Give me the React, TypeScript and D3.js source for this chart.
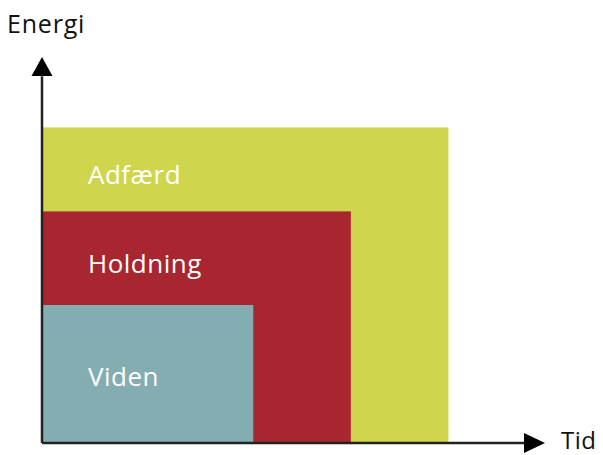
import React from 'react';
import { scaleLinear } from 'd3';

// nested stages, drawn largest first
const stages = ['Adfærd', 'Holdning', 'Viden'];
const tid = [4.04, 3.07, 2.1];
const energi = [3.27, 2.4, 1.43];
const colors = ['#cfd64e', '#a82630', '#84adb2'];

const dims = { width: 603, height: 455, left: 42, bottom: 443, right: 545, top: 57 };

const App: React.FC = () => {
  const x = scaleLinear().domain([0, 5]).range([dims.left, dims.right]);
  const y = scaleLinear().domain([0, 4]).range([dims.bottom, dims.top]);
  const font = "'Open Sans', sans-serif";

  return (
    <svg width={dims.width} height={dims.height} style={{ position: 'absolute', left: 0, top: 0 }}>
      {stages.map((s, i) => (
        <rect
          key={s}
          x={x(0)}
          y={y(energi[i])}
          width={x(tid[i]) - x(0)}
          height={y(0) - y(energi[i])}
          fill={colors[i]}
        />
      ))}
      {stages.map((s, i) => {
        const lower = i < stages.length - 1 ? energi[i + 1] : 0;
        const cy = (y(energi[i]) + y(lower)) / 2;
        return (
          <text
            key={s + 't'}
            x={88}
            y={cy}
            dy={i === 2 ? '0.45em' : '0.55em'}
            fill="#fff"
            fontFamily={font}
            fontSize={26}
            letterSpacing={0.5}
          >
            {s}
          </text>
        );
      })}
      {/* axes */}
      <line x1={x(0)} y1={y(0)} x2={x(0)} y2={y(3.8)} stroke="#222" strokeWidth={2.5} />
      <line x1={x(0)} y1={y(0)} x2={x(4.8)} y2={y(0)} stroke="#222" strokeWidth={2.5} />
      <path d={`M${x(0)},${dims.top} L${x(0) - 10.5},${dims.top + 19} L${x(0) + 10.5},${dims.top + 19} Z`} fill="#000" />
      <path d={`M${dims.right},${y(0)} L${dims.right - 21},${y(0) - 10} L${dims.right - 21},${y(0) + 10} Z`} fill="#000" />
      <text x={7} y={33} fontFamily={font} fontSize={25} letterSpacing={0.8} fill="#111">Energi</text>
      <text x={561} y={449} fontFamily={font} fontSize={24} letterSpacing={0.5} fill="#111">Tid</text>
    </svg>
  );
};

export default App;
